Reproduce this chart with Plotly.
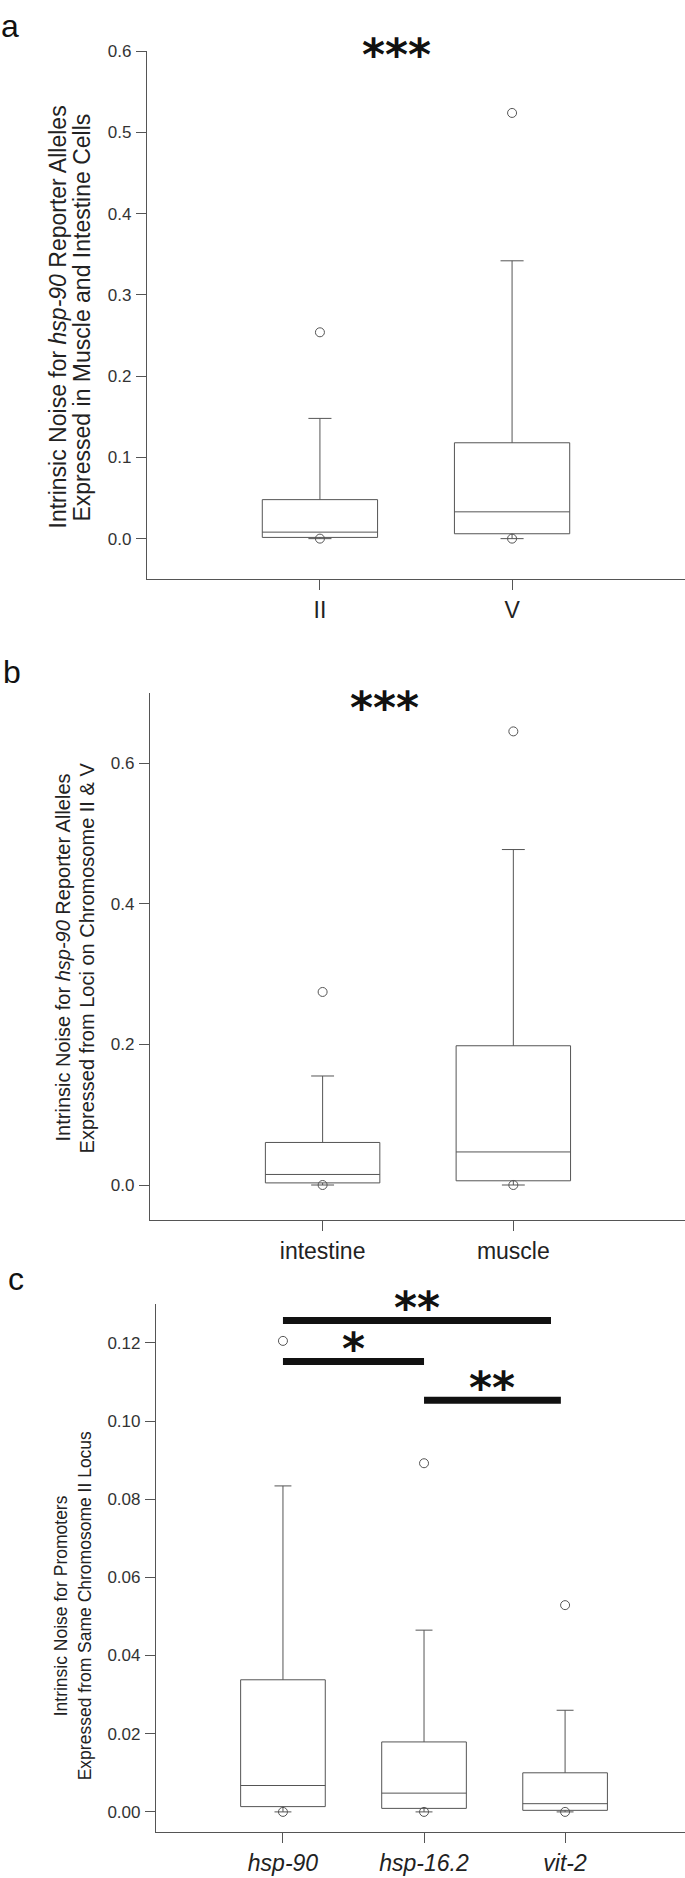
import plotly.graph_objects as go

W, H = 685, 1878
FONT = 'Liberation Sans, Arial, Helvetica, sans-serif'
STAR_FONT = 'DejaVu Sans'
INK = '#222222'
GREY = '#555555'

# ---- panel a: chromosome locus ----
a_cats = ['II', 'V']
a_q1 = [0.0015, 0.006]
a_median = [0.008, 0.033]
a_q3 = [0.048, 0.118]
a_lower = [0.0, 0.0]
a_upper = [0.148, 0.342]
a_out_x = ['II', 'II', 'V', 'V']
a_out_y = [0.254, 0.0, 0.524, 0.0]

# ---- panel b: tissue ----
b_cats = ['intestine', 'muscle']
b_q1 = [0.003, 0.006]
b_median = [0.015, 0.047]
b_q3 = [0.0605, 0.198]
b_lower = [0.0, 0.0]
b_upper = [0.155, 0.477]
b_out_x = ['intestine', 'intestine', 'muscle', 'muscle']
b_out_y = [0.2745, 0.0, 0.645, 0.0]

# ---- panel c: promoters ----
c_cats = ['hsp-90', 'hsp-16.2', 'vit-2']
c_q1 = [0.00135, 0.0009, 0.0004]
c_median = [0.00675, 0.0048, 0.0021]
c_q3 = [0.0338, 0.0179, 0.010]
c_lower = [0.0, 0.0, 0.0]
c_upper = [0.0834, 0.0465, 0.026]
c_out_x = ['hsp-90', 'hsp-90', 'hsp-16.2', 'hsp-16.2', 'vit-2', 'vit-2']
c_out_y = [0.1205, 0.0, 0.0892, 0.0, 0.0529, 0.0]

# significance comparisons in panel c: (from, to, height, label)
c_sig_from = [0.0, 0.0, 1.0]
c_sig_to = [1.9, 1.0, 1.97]
c_sig_y = [0.1257, 0.1152, 0.1053]
c_sig_label = ['**', '*', '**']


def px_x(p):
    return p / W


def px_y(p):
    return 1 - p / H


fig = go.Figure()


def add_panel(n, cats, ticktext, q1, med, q3, lo, hi, out_x, out_y,
              xdom, ydom, xrange, yrange, dtick, fmt, ytick_size):
    xa = 'x' if n == 1 else 'x%d' % n
    ya = 'y' if n == 1 else 'y%d' % n
    fig.add_trace(go.Box(
        x=cats, q1=q1, median=med, q3=q3, lowerfence=lo, upperfence=hi,
        width=0.6, whiskerwidth=0.2, fillcolor='white',
        line=dict(color=GREY, width=1), boxpoints=False,
        xaxis=xa, yaxis=ya, showlegend=False, hoverinfo='skip'))
    fig.add_trace(go.Scatter(
        x=out_x, y=out_y, mode='markers',
        marker=dict(symbol='circle-open', size=9, color=GREY,
                    line=dict(width=1, color=GREY)),
        xaxis=xa, yaxis=ya, showlegend=False, hoverinfo='skip'))
    xkey = 'xaxis' if n == 1 else 'xaxis%d' % n
    ykey = 'yaxis' if n == 1 else 'yaxis%d' % n
    fig.update_layout(**{
        xkey: dict(domain=xdom, anchor=ya, type='category',
                   categoryorder='array', categoryarray=cats,
                   range=xrange, tickvals=cats, ticktext=ticktext,
                   showline=True, linecolor=GREY, linewidth=1.2,
                   ticks='outside', ticklen=10, tickcolor=GREY,
                   tickfont=dict(family=FONT, size=23, color=INK),
                   showgrid=False, zeroline=False),
        ykey: dict(domain=ydom, anchor=xa, range=yrange, tick0=0,
                   dtick=dtick, tickformat=fmt,
                   showline=True, linecolor=GREY, linewidth=1.2,
                   ticks='outside', ticklen=10, tickcolor=GREY,
                   ticklabelstandoff=1,
                   tickfont=dict(family=FONT, size=ytick_size, color='#333333'),
                   showgrid=False, zeroline=False),
    })


add_panel(1, a_cats, a_cats, a_q1, a_median, a_q3, a_lower, a_upper,
          a_out_x, a_out_y,
          [px_x(147), 1], [px_y(573), px_y(42)], [-0.9, 1.9],
          [-0.05, 0.6005], 0.1, '.1f', 17)
add_panel(2, b_cats, b_cats, b_q1, b_median, b_q3, b_lower, b_upper,
          b_out_x, b_out_y,
          [px_x(150), 1], [px_y(1217), px_y(687)], [-0.905, 1.9],
          [-0.05, 0.7], 0.2, '.1f', 17)
add_panel(3, c_cats, ['<i>%s</i>' % c for c in c_cats],
          c_q1, c_median, c_q3, c_lower, c_upper,
          c_out_x, c_out_y,
          [px_x(156), 1], [px_y(1832), px_y(1301)], [-0.9, 2.85],
          [-0.0052, 0.13], 0.02, '.2f', 17)

STAR = dict(family=STAR_FONT, size=44, color='#111111', weight='bold')

# significance bars in panel c
for x0, x1, yv, lab in zip(c_sig_from, c_sig_to, c_sig_y, c_sig_label):
    fig.add_shape(type='line', xref='x3', yref='y3', x0=x0, x1=x1,
                  y0=yv, y1=yv, line=dict(color='#111111', width=7))
    fig.add_annotation(xref='x3', yref='y3', x=(x0 + x1) / 2, y=yv,
                       text=lab, showarrow=False, yanchor='middle',
                       yshift=13, font=STAR)

# significance stars above panels a and b
fig.add_annotation(xref='paper', yref='paper', x=px_x(396), y=px_y(46),
                   text='***', showarrow=False, xanchor='center', yanchor='middle',
                   font=STAR)
fig.add_annotation(xref='paper', yref='paper', x=px_x(384), y=px_y(702),
                   text='***', showarrow=False, xanchor='center', yanchor='middle',
                   font=STAR)

# panel letters
for lab, xp, yp in [('a', 0, 17), ('b', 2, 666), ('c', 7, 1276)]:
    fig.add_annotation(xref='paper', yref='paper', x=px_x(xp), y=px_y(yp),
                       text=lab, showarrow=False, xanchor='left', yanchor='middle',
                       borderpad=0,
                       font=dict(family=FONT, size=32, color='#111111'))

# y-axis titles (two lines each)
titles = [
    ('Intrinsic Noise for <i>hsp-90</i> Reporter Alleles',
     'Expressed in Muscle and Intestine Cells', 58, 82, 310, 23),
    ('Intrinsic Noise for <i>hsp-90</i> Reporter Alleles',
     'Expressed from Loci on Chromosome II &amp; V', 63, 87, 953, 20),
    ('Intrinsic Noise for Promoters',
     'Expressed from Same Chromosome II Locus', 61, 85, 1605, 17.5),
]
for l1, l2, x1, x2, yc, fs in titles:
    for txt, xp in [(l1, x1), (l2, x2)]:
        fig.add_annotation(xref='paper', yref='paper', x=px_x(xp), y=px_y(yc),
                           text=txt, textangle=-90, showarrow=False,
                           xanchor='center', yanchor='middle',
                           font=dict(family=FONT, size=fs, color=INK))

fig.update_layout(width=W, height=H, autosize=False,
                  margin=dict(l=0, r=0, t=0, b=0),
                  plot_bgcolor='white', paper_bgcolor='white',
                  font=dict(family=FONT, color=INK))

fig.write_html('out.html', config={'displayModeBar': False},
               post_script="document.body.style.margin='0';")
